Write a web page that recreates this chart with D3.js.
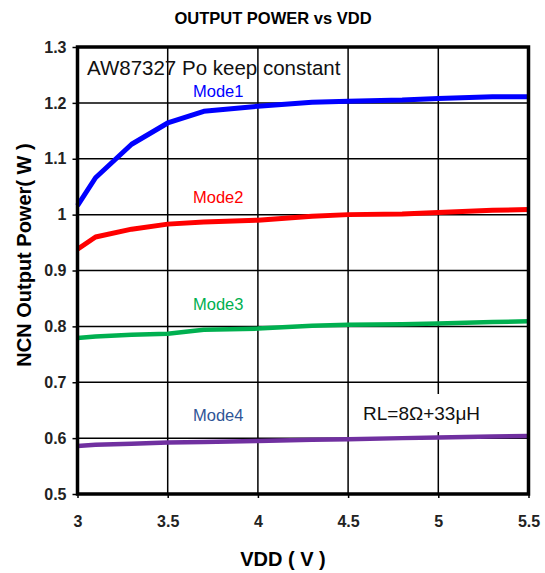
<!DOCTYPE html>
<html><head><meta charset="utf-8">
<script src="https://cdn.jsdelivr.net/npm/d3@7"></script>
<style>
body{margin:0;background:#fff;}
svg text{font-family:Arial,"Liberation Sans",sans-serif;}
</style></head>
<body><svg id="c" width="545" height="573"></svg>
<script>
const vdd = [3.0, 3.1, 3.3, 3.5, 3.7, 4.0, 4.3, 4.5, 4.8, 5.0, 5.3, 5.5];
const mode1 = [1.016, 1.066, 1.126, 1.164, 1.185, 1.194, 1.201, 1.203, 1.205, 1.208, 1.211, 1.211];
const mode2 = [0.938, 0.960, 0.974, 0.983, 0.987, 0.990, 0.997, 1.000, 1.001, 1.004, 1.008, 1.009];
const mode3 = [0.779, 0.782, 0.785, 0.787, 0.794, 0.796, 0.801, 0.803, 0.804, 0.805, 0.808, 0.809];
const mode4 = [0.586, 0.588, 0.590, 0.592, 0.593, 0.595, 0.597, 0.598, 0.600, 0.601, 0.603, 0.604];
const seriesNames = ["Mode1", "Mode2", "Mode3", "Mode4"];
const xTicks = [3, 3.5, 4, 4.5, 5, 5.5];
const yTicks = [0.5, 0.6, 0.7, 0.8, 0.9, 1, 1.1, 1.2, 1.3];

const svg = d3.select("#c");
const L = 77.5, R = 528.5, T = 47, B = 494;
const x = d3.scaleLinear().domain([3, 5.5]).range([L, R]);
const y = d3.scaleLinear().domain([0.5, 1.3]).range([B, T]);

// grid
svg.append("g").selectAll("line").data(xTicks.slice(1, -1)).join("line")
  .attr("x1", d => x(d)).attr("x2", d => x(d)).attr("y1", T).attr("y2", B)
  .attr("stroke", "#000").attr("stroke-width", 1.5);
svg.append("g").selectAll("line").data(yTicks.slice(1, -1)).join("line")
  .attr("x1", L).attr("x2", R).attr("y1", d => y(d)).attr("y2", d => y(d))
  .attr("stroke", "#000").attr("stroke-width", 1.5);

// axes
const ya = svg.append("g").attr("transform", `translate(${L},0)`)
  .call(d3.axisLeft(y).tickValues(yTicks).tickFormat(d3.format("~g")).tickSize(5).tickPadding(6));
const xa = svg.append("g").attr("transform", `translate(0,${B})`)
  .call(d3.axisBottom(x).tickValues(xTicks).tickFormat(d3.format("~g")).tickSize(4).tickPadding(18));
[ya, xa].forEach(g => {
  g.select(".domain").remove();
  g.selectAll("line").attr("stroke", "#000").attr("stroke-width", 1.5);
  g.selectAll("text").attr("font-size", 16).attr("font-weight", "bold").attr("fill", "#222")
    .attr("font-family", "Arial, 'Liberation Sans', sans-serif");
});

// white box behind RL annotation
svg.append("rect").attr("x", 356).attr("y", 394).attr("width", 142).attr("height", 38).attr("fill", "#fff");

// lines
const colors = ["#0000ff", "#ff0000", "#00b050", "#7030a0"];
const widths = [5, 5, 4.5, 4.5];
const data = [mode1, mode2, mode3, mode4];
const line = d3.line().x((d, i) => x(vdd[i])).y(d => y(d)).curve(d3.curveLinear);
data.forEach((s, k) => {
  svg.append("path").datum(s).attr("d", line).attr("fill", "none")
    .attr("stroke", colors[k]).attr("stroke-width", widths[k]).attr("stroke-linejoin", "round");
});

// border
svg.append("rect").attr("x", L).attr("y", T).attr("width", R - L).attr("height", B - T)
  .attr("fill", "none").attr("stroke", "#000").attr("stroke-width", 3.5);

// labels
const labelColors = ["#0000ff", "#ff0000", "#00b050", "#2f5597"];
const labelY = [97, 203, 310, 421];
seriesNames.forEach((n, k) => {
  svg.append("text").attr("x", 193).attr("y", labelY[k]).attr("font-size", 16.5)
    .attr("fill", labelColors[k]).text(n);
});
svg.append("text").attr("x", 87).attr("y", 75).attr("font-size", 20.5).attr("fill", "#111")
  .text("AW87327 Po keep constant");
svg.append("text").attr("x", 363).attr("y", 420).attr("font-size", 19).attr("fill", "#111")
  .text("RL=8Ω+33μH");

svg.append("text").attr("x", 273).attr("y", 24).attr("text-anchor", "middle")
  .attr("font-size", 16.5).attr("font-weight", "bold").text("OUTPUT POWER vs VDD");
svg.append("text").attr("x", 283).attr("y", 566).attr("text-anchor", "middle")
  .attr("font-size", 20).attr("font-weight", "bold").text("VDD ( V )");
svg.append("text").attr("transform", "translate(31,255) rotate(-90)").attr("text-anchor", "middle")
  .attr("font-size", 20).attr("font-weight", "bold").text("NCN Output Power( W )");
</script></body></html>
